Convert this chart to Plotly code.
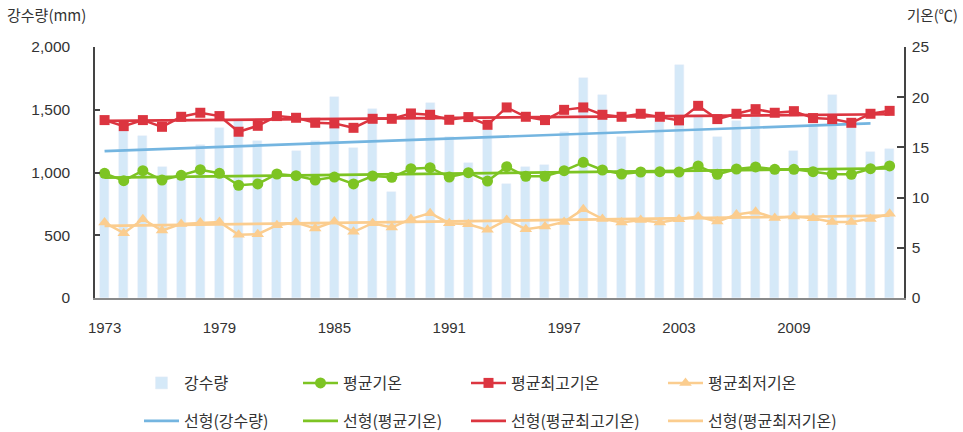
import plotly.graph_objects as go

years = list(range(1973, 2015))
precip = [970, 1332, 1290, 1044, 980, 1219, 1354, 1417, 1250, 980,
          1171, 1250, 1600, 1195, 1505, 845, 1450, 1553, 1282, 1076,
          1337, 909, 1044, 1060, 1322, 1751, 1617, 1282, 1000, 1404,
          1855, 1460, 1285, 1412, 1440, 1020, 1171, 1390, 1617, 1360,
          1163, 1187]
t_avg = [12.42, 11.69, 12.68, 11.75, 12.22, 12.78, 12.42, 11.23, 11.36, 12.35,
         12.18, 11.75, 12.05, 11.36, 12.15, 12.02, 12.88, 12.98, 12.05, 12.48,
         11.65, 13.08, 12.12, 12.12, 12.68, 13.51, 12.75, 12.35, 12.55, 12.58,
         12.55, 13.15, 12.32, 12.85, 13.05, 12.82, 12.82, 12.58, 12.32, 12.32,
         12.88, 13.15]
t_max = [17.72, 17.12, 17.72, 17.05, 18.05, 18.45, 18.12, 16.56, 17.15, 18.12,
         17.95, 17.45, 17.39, 16.95, 17.85, 17.85, 18.38, 18.25, 17.75, 18.02,
         17.25, 18.98, 18.05, 17.72, 18.74, 18.98, 18.25, 18.05, 18.35, 18.05,
         17.69, 19.14, 17.82, 18.35, 18.81, 18.45, 18.61, 17.92, 17.82, 17.45,
         18.35, 18.64]
t_min = [7.51, 6.46, 7.85, 6.72, 7.38, 7.51, 7.58, 6.29, 6.36, 7.25,
         7.51, 6.92, 7.61, 6.59, 7.45, 7.02, 7.88, 8.45, 7.45, 7.35,
         6.79, 7.78, 6.86, 7.12, 7.58, 8.84, 7.88, 7.51, 7.78, 7.51,
         7.85, 8.11, 7.61, 8.31, 8.58, 7.98, 8.11, 7.95, 7.58, 7.58,
         7.88, 8.38]

# Linear trend endpoints
trend_years_precip = [1973, 2013]
trend_precip = [1171, 1391]
trend_years_temp = [1973, 2014]
trend_avg = [11.98, 12.92]
trend_max = [17.65, 18.30]
trend_min = [7.18, 8.21]

tick_years = [1973, 1979, 1985, 1991, 1997, 2003, 2009]

C_BAR = "#d5e9f8"
C_BLUE = "#74b5e0"
C_GREEN = "#7dc423"
C_RED = "#dc3540"
C_ORANGE = "#fbcd8f"

FONT_KR = "Noto Sans CJK KR"

fig = go.Figure()

fig.add_trace(go.Bar(x=years, y=precip, name="강수량", marker_color=C_BAR,
                     width=0.47, legend="legend"))

# trend lines
fig.add_trace(go.Scatter(x=trend_years_precip, y=trend_precip, mode="lines",
                         name="선형(강수량)", line=dict(color=C_BLUE, width=2.7),
                         legend="legend5"))
fig.add_trace(go.Scatter(x=trend_years_temp, y=trend_avg, mode="lines", yaxis="y2",
                         name="선형(평균기온)", line=dict(color=C_GREEN, width=2.7),
                         legend="legend6"))
fig.add_trace(go.Scatter(x=trend_years_temp, y=trend_max, mode="lines", yaxis="y2",
                         name="선형(평균최고기온)", line=dict(color=C_RED, width=2.7),
                         legend="legend7"))
fig.add_trace(go.Scatter(x=trend_years_temp, y=trend_min, mode="lines", yaxis="y2",
                         name="선형(평균최저기온)", line=dict(color=C_ORANGE, width=2.7),
                         legend="legend8"))

# data lines
fig.add_trace(go.Scatter(x=years, y=t_avg, mode="lines+markers", yaxis="y2",
                         name="평균기온", line=dict(color=C_GREEN, width=2.5),
                         marker=dict(symbol="circle", size=11, color=C_GREEN),
                         legend="legend2"))
fig.add_trace(go.Scatter(x=years, y=t_max, mode="lines+markers", yaxis="y2",
                         name="평균최고기온", line=dict(color=C_RED, width=2.5),
                         marker=dict(symbol="square", size=10, color=C_RED),
                         legend="legend3"))
fig.add_trace(go.Scatter(x=years, y=t_min, mode="lines+markers", yaxis="y2",
                         name="평균최저기온", line=dict(color=C_ORANGE, width=2.5),
                         marker=dict(symbol="triangle-up", size=11, color=C_ORANGE),
                         legend="legend4"))

L, R, T, B = 95, 59, 47, 134
W, H = 963, 432
pw = W - L - R
ph = H - T - B


def px_x(px):
    return (px - L) / pw


def px_y(py):
    return (H - B - py) / ph


legend_font = dict(family=FONT_KR, size=16, color="#333333")
col_text = [184, 343, 511, 708]
row_y = [380, 418]
legend_names = ["legend", "legend2", "legend3", "legend4",
                "legend5", "legend6", "legend7", "legend8"]
legends = {}
for i, nm in enumerate(legend_names):
    r, c = divmod(i, 4)
    legends[nm] = dict(x=(col_text[c] - 45) / W, y=1 - (row_y[r] - 14) / H,
                       xanchor="left", yanchor="top", xref="container",
                       yref="container",
                       orientation="h", font=legend_font, bgcolor="rgba(0,0,0,0)",
                       itemwidth=35, borderwidth=0)

fig.update_layout(
    width=W, height=H,
    margin=dict(l=L, r=R, t=T, b=B, autoexpand=False),
    paper_bgcolor="white", plot_bgcolor="white",
    showlegend=True,
    bargap=0,
    font=dict(family="Liberation Sans, Arial, sans-serif", size=15, color="#333333"),
    xaxis=dict(range=[1972.5, 2014.75], tickvals=tick_years,
               ticktext=[str(y) for y in tick_years],
               showgrid=False, zeroline=False, showline=True, linecolor="#8a8a8a",
               linewidth=2, ticks="", ticklabelstandoff=15,
               tickfont=dict(size=15, color="#333333")),
    yaxis=dict(range=[0, 2000], dtick=500, tickformat=",", showgrid=False,
               zeroline=False, showline=True, linecolor="#444444", linewidth=1.5,
               ticks="inside", ticklen=5, tickcolor="#444444", tickwidth=1.5,
               ticklabelstandoff=20, tickfont=dict(size=15.5, color="#333333")),
    yaxis2=dict(range=[0, 25], dtick=5, overlaying="y", side="right",
                showgrid=False, zeroline=False, showline=True, linecolor="#444444",
                linewidth=1.5, ticks="inside", ticklen=7, tickcolor="#444444",
                tickwidth=1.5, ticklabelstandoff=3,
                tickfont=dict(size=15.5, color="#333333")),
    annotations=[
        dict(text="강수량(mm)", x=px_x(5), y=px_y(15), xref="paper", yref="paper",
             showarrow=False, xanchor="left", yanchor="middle",
             font=dict(family=FONT_KR, size=15, color="#333333")),
        dict(text="기온(℃)", x=px_x(960), y=px_y(15), xref="paper", yref="paper",
             showarrow=False, xanchor="right", yanchor="middle",
             font=dict(family=FONT_KR, size=14.5, color="#333333")),
    ],
    **legends,
)

fig.write_html(
    "out.html",
    config={"displayModeBar": False},
    post_script="document.body.style.margin='0';document.body.style.overflow='hidden';",
)
